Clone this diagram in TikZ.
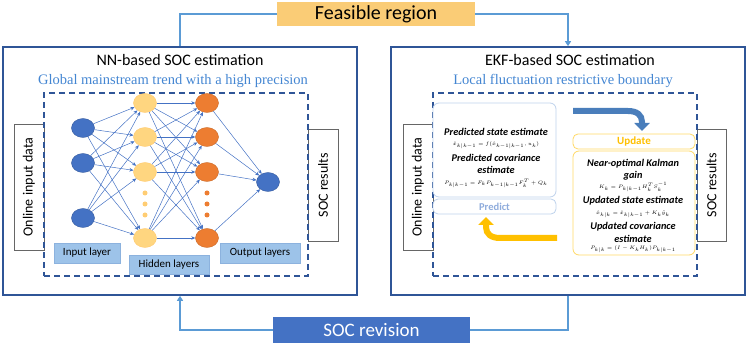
\documentclass[tikz,border=0pt]{standalone}
\usepackage{fontspec}
\setmainfont{Carlito}
\newfontfamily\blueserif{Liberation Serif}
\usetikzlibrary{shapes.geometric,arrows.meta}
\definecolor{boxblue}{RGB}{47,85,151}
\definecolor{lineblue}{RGB}{91,155,213}
\definecolor{nodeblue}{RGB}{68,114,196}
\definecolor{hidyellow}{RGB}{255,214,128}
\definecolor{hidorange}{RGB}{237,125,49}
\definecolor{feasfill}{RGB}{250,204,118}
\definecolor{labfill}{RGB}{157,195,233}
\definecolor{labedge}{RGB}{140,178,222}
\definecolor{textblue}{RGB}{68,134,210}
\definecolor{predborder}{RGB}{190,210,236}
\definecolor{predtext}{RGB}{143,172,220}
\definecolor{updborder}{RGB}{255,217,102}
\definecolor{updtext}{RGB}{255,192,0}
\definecolor{bigarrow}{RGB}{74,126,187}
\begin{document}
\begin{tikzpicture}[x=1pt,y=-1pt,
  outerbox/.style={draw=boxblue,line width=1.6pt,inner sep=0pt},
  dashbox/.style={draw=boxblue,line width=1.3pt,dash pattern=on 6pt off 4pt,inner sep=0pt},
  sidebox/.style={draw=gray!80!black,line width=0.8pt,fill=white,rotate=90,inner sep=0pt,font=\fontsize{14}{14}\selectfont},
  conn/.style={draw=lineblue,line width=1.3pt},
  connarrow/.style={conn,-{Triangle[length=5pt,width=6pt]}},
  neuron/.style={ellipse,minimum width=23pt,minimum height=19pt,inner sep=0pt},
  inneuron/.style={neuron,fill=nodeblue,draw=nodeblue!80!black,line width=0.4pt},
  h1neuron/.style={neuron,fill=hidyellow,draw=hidyellow!85!orange,line width=0.4pt},
  h2neuron/.style={neuron,fill=hidorange,draw=hidorange!85!black,line width=0.4pt},
  ydot/.style={circle,fill=hidyellow!90!orange,inner sep=0pt,minimum size=5pt},
  odot/.style={circle,fill=hidorange,inner sep=0pt,minimum size=5pt},
  nnedge/.style={draw=nodeblue,line width=0.5pt,-{Stealth[length=4pt,width=3.5pt]}},
  laybox/.style={fill=labfill,draw=labedge,line width=0.4pt,inner sep=0pt,font=\fontsize{11}{11}\selectfont},
  titletext/.style={font=\fontsize{16}{16}\selectfont},
  subtext/.style={text=textblue,font=\blueserif\fontsize{14.5}{14.5}\selectfont},
  bitext/.style={font=\fontsize{10.3}{10.3}\selectfont\bfseries\itshape,inner sep=0pt},
  formtext/.style={font=\fontsize{5.5}{6}\selectfont,inner sep=0pt}]
\useasboundingbox (0,0) rectangle (747,344);

% outer boxes
\node[outerbox,minimum width=354pt,minimum height=248pt] (nnbox) at (180,171) {};
\node[outerbox,minimum width=354pt,minimum height=248pt] (ekfbox) at (568,171) {};

% top / bottom labels
\node[fill=feasfill,inner sep=0pt,minimum width=198pt,minimum height=24pt,font=\fontsize{20}{20}\selectfont] (feas) at (376,14) {Feasible region};
\node[fill=nodeblue,inner sep=0pt,minimum width=197pt,minimum height=26pt,text=white,font=\fontsize{19}{19}\selectfont] (socrev) at (371.5,330) {SOC revision};

\draw[conn] (feas.west) -| (nnbox.north);
\draw[connarrow] (feas.east) -| (ekfbox.north);
\draw[connarrow] (socrev.west) -| (nnbox.south);
\draw[conn] (ekfbox.south) |- (socrev.east);

% titles
\node[titletext] (nntitle) at (180,60) {NN-based SOC estimation};
\node[subtext] (nnsub) at (173,81) {Global mainstream trend with a high precision};
\node[titletext] (ekftitle) at (570,60) {EKF-based SOC estimation};
\node[subtext] (ekfsub) at (563,81) {Local fluctuation restrictive boundary};

% side boxes
\node[sidebox,minimum width=126pt,minimum height=30pt] (nnin) at (29,187) {Online input data};
\node[sidebox,minimum width=112pt,minimum height=30pt] (nnout) at (323,185) {SOC results};
\node[sidebox,minimum width=126pt,minimum height=30pt] (ekfin) at (418,187) {Online input data};
\node[sidebox,minimum width=112pt,minimum height=29pt] (ekfout) at (711.5,185) {SOC results};

% dashed boxes
\node[dashbox,minimum width=264pt,minimum height=183pt] (nndash) at (176,184.5) {};
\node[dashbox,minimum width=264pt,minimum height=183pt] (ekfdash) at (565,184.5) {};

% neural network
\node[inneuron] (i1) at (83,128) {};
\node[inneuron] (i2) at (83,163) {};
\node[inneuron] (i3) at (83,218) {};
\node[h1neuron] (a1) at (145,103) {};
\node[h1neuron] (a2) at (145,137) {};
\node[h1neuron] (a3) at (145,172) {};
\node[h1neuron] (a4) at (145,238) {};
\node[h2neuron] (b1) at (207,103) {};
\node[h2neuron] (b2) at (207,137) {};
\node[h2neuron] (b3) at (207,172) {};
\node[h2neuron] (b4) at (207,238) {};
\node[inneuron] (out) at (268,182) {};
\node[ydot] (ad1) at (145,193) {};
\node[ydot] (ad2) at (145,204) {};
\node[ydot] (ad3) at (145,215) {};
\node[odot] (bd1) at (207,193) {};
\node[odot] (bd2) at (207,204) {};
\node[odot] (bd3) at (207,215) {};
\foreach \i in {1,2,3}{\foreach \j in {1,2,3,4}{\draw[nnedge] (i\i) -- (a\j);}}
\foreach \i in {1,2,3,4}{\foreach \j in {1,2,3,4}{\draw[nnedge] (a\i) -- (b\j);}}
\foreach \i in {1,2,3,4}{\draw[nnedge] (b\i) -- (out);}

\node[laybox,minimum width=66pt,minimum height=20pt] (inlab) at (87,253) {Input layer};
\node[laybox,minimum width=80pt,minimum height=19pt] (hidlab) at (169,264.5) {Hidden layers};
\node[laybox,minimum width=80pt,minimum height=20pt] (outlab) at (260,253) {Output layers};

% EKF predict
\node[draw=predborder,line width=0.8pt,rounded corners=6pt,fill=white,minimum width=123pt,minimum height=94pt,inner sep=0pt] (predbox) at (494.5,150) {};
\node[draw=predborder,line width=0.8pt,rounded corners=5pt,fill=white,minimum width=123pt,minimum height=15pt,inner sep=0pt,text=predtext,font=\fontsize{10.5}{10.5}\selectfont\bfseries] (predtab) at (494.5,206.5) {Predict};
\node[bitext] (p1) at (496,131.5) {Predicted state estimate};
\node[formtext] (p2) at (496,145.5) {$\hat{x}_{k|k-1}=f(\hat{x}_{k-1|k-1},u_k)$};
\node[bitext] (p3) at (496,157.5) {Predicted covariance};
\node[bitext] (p4) at (496,170) {estimate};
\node[formtext] (p5) at (496,183) {$P_{k|k-1}=F_kP_{k-1|k-1}F_k^T+Q_k$};

% EKF update
\node[draw=updborder,line width=0.8pt,rounded corners=5pt,fill=white,minimum width=122pt,minimum height=15pt,inner sep=0pt,text=updtext,font=\fontsize{11}{11}\selectfont\bfseries] (updtab) at (634,141.5) {Update};
\node[draw=updborder,line width=0.8pt,rounded corners=6pt,fill=white,minimum width=122pt,minimum height=104pt,inner sep=0pt] (updbox) at (634,203) {};
\node[bitext] (u1) at (633,163.5) {Near-optimal Kalman};
\node[bitext] (u2) at (633,175.5) {gain};
\node[formtext] (u3) at (633,187) {$K_k=P_{k|k-1}H_k^TS_k^{-1}$};
\node[bitext] (u4) at (633,201) {Updated state estimate};
\node[formtext] (u5) at (633,214.5) {$\hat{x}_{k|k}=\hat{x}_{k|k-1}+K_k\tilde{y}_k$};
\node[bitext] (u6) at (633,226.5) {Updated covariance};
\node[bitext] (u7) at (633,238.5) {estimate};
\node[formtext] (u8) at (633,249.5) {$P_{k|k}=(I-K_kH_k)P_{k|k-1}$};

% big curved arrows
\coordinate (ba1) at (573,111);
\coordinate (ba2) at (642,131);
\draw[bigarrow,line width=6pt,-{Triangle[length=8pt,width=15pt]}] (ba1) -- (628,111) .. controls (637,111) and (642,115) .. (642,122) -- (ba2);
\coordinate (ya1) at (557,238);
\coordinate (ya2) at (486,217);
\draw[updtext,line width=6pt,-{Triangle[length=8pt,width=15pt]}] (ya1) -- (500,238) .. controls (491,238) and (486,234) .. (486,227) -- (ya2);
\end{tikzpicture}
\end{document}
